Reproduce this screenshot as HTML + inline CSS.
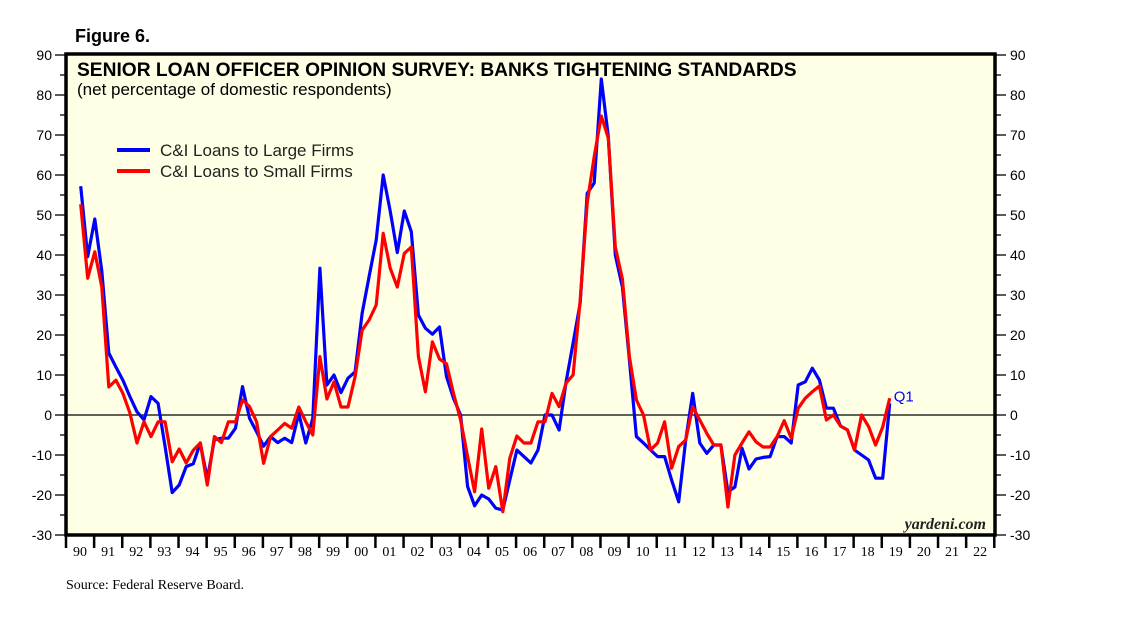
<!DOCTYPE html>
<html><head><meta charset="utf-8">
<style>
body{margin:0;background:#fff;}
svg{display:block;}
.sans{font-family:"Liberation Sans",Arial,sans-serif;}
.serif{font-family:"Liberation Serif","Times New Roman",serif;}
</style></head>
<body>
<svg id="chart" width="1138" height="621" viewBox="0 0 1138 621">
  <text x="75" y="42" class="sans" font-size="18" font-weight="bold">Figure 6.</text>
  <rect x="66" y="54" width="929" height="481" fill="#FFFFE6"/>
  <g id="axes"></g>
  <line id="zero-line" x1="66" x2="995" stroke="#000" stroke-width="1.2"/>
  <g id="series"></g>
  <rect x="66" y="54" width="929" height="481" fill="none" stroke="#000" stroke-width="3.5"/>
  <text x="77" y="76" class="sans" font-size="19.2" font-weight="bold">SENIOR LOAN OFFICER OPINION SURVEY: BANKS TIGHTENING STANDARDS</text>
  <text x="77" y="95" class="sans" font-size="17">(net percentage of domestic respondents)</text>
  <g>
    <line x1="117" x2="150" y1="150" y2="150" stroke="#0000ff" stroke-width="4"/>
    <text x="160" y="156" class="sans" font-size="17" fill="#222">C&amp;I Loans to Large Firms</text>
    <line x1="117" x2="150" y1="171" y2="171" stroke="#ff0000" stroke-width="4"/>
    <text x="160" y="177" class="sans" font-size="17" fill="#222">C&amp;I Loans to Small Firms</text>
  </g>
  <text id="q1" class="sans" font-size="15" fill="#0000ff">Q1</text>
  <text x="986" y="529" text-anchor="end" class="serif" font-size="16" font-style="italic" font-weight="bold" fill="#222">yardeni.com</text>
  <text x="66" y="589" class="serif" font-size="14">Source: Federal Reserve Board.</text>
</svg>
<script>
const yearLabels = ["90","91","92","93","94","95","96","97","98","99","00","01","02","03","04","05","06","07","08","09","10","11","12","13","14","15","16","17","18","19","20","21","22"];
const yTicks = [90,80,70,60,50,40,30,20,10,0,-10,-20,-30];
const largeFirms = [57.2,39.6,49,36,15.5,12,8.7,4.6,0.8,-1.2,4.6,2.9,-7.9,-19.4,-17.5,-12.9,-12.2,-7,-16,-6.2,-5.8,-5.8,-3.3,7.1,-0.8,-4.2,-7.8,-5.4,-6.9,-5.8,-6.9,0.4,-7,-0.8,36.7,7.5,10,5.6,9.2,10.8,25.4,34.6,43.75,60,51,40.6,51,45.8,25,21.7,20.2,22,9.6,4.2,0,-17.9,-22.7,-20,-21,-23.3,-23.75,-16.25,-8.75,-10.4,-12,-8.75,0,0,-3.75,8.3,18,28,55.4,58,84,69.6,40,32,13.75,-5.4,-7,-8.75,-10.4,-10.4,-16.25,-21.7,-6.25,5.4,-7,-9.6,-7.5,-7.5,-19.2,-18,-8.3,-13.5,-11,-10.6,-10.4,-5.4,-5.4,-7,7.5,8.3,11.7,8.75,1.7,1.7,-2.75,-3.75,-8.75,-10,-11.25,-15.8,-15.8,2.9];
const smallFirms = [52.7,34.2,40.8,32,7,8.7,5.4,0.5,-7,-1.7,-5.4,-1.7,-1.7,-11.7,-8.5,-12,-8.8,-7,-17.5,-5.4,-6.9,-1.7,-1.7,3.75,2.1,-1.7,-12.1,-5.4,-3.75,-2.1,-3.3,2,-1.7,-5,14.6,4,8.3,2,2,9.6,21.2,23.75,27.5,45.4,36.7,32,40.4,42,14.6,5.8,18.3,14,12.8,5.4,-1.2,-10.4,-19.2,-3.5,-18.3,-12.9,-24.2,-10.8,-5.25,-7,-7,-1.7,-1.7,5.4,2.1,8,10,28.75,53,64.6,74.75,69.2,42,34,14.6,3.75,0,-8.75,-7,-1.7,-13.3,-7.9,-6.25,2.1,-1.25,-4.6,-7.5,-7.5,-23,-10,-7,-4.2,-6.7,-8,-8,-5.4,-1.4,-5.8,1.7,4.2,5.8,7.25,-1.25,0,-2.75,-3.75,-8.75,0,-2.9,-7.5,-3,4.2];

const NS = "http://www.w3.org/2000/svg";
function yScale(v){ return 415 - v*4; }
function xYear(k){ return 66 + k*28.13; }
function xQuarter(i){ return 80.7 + i*(889.7-80.7)/(largeFirms.length-1); }
function mk(tag, attrs, parent){ const e=document.createElementNS(NS,tag); for(const k in attrs) e.setAttribute(k,attrs[k]); parent.appendChild(e); return e; }

const axes = document.getElementById('axes');
for (const v of yTicks){
  const y = yScale(v);
  let t = mk('line',{x1:55,x2:66,y1:y,y2:y,stroke:'#000','stroke-width':1.3},axes);
  
  
  t = mk('line',{x1:995,x2:1006,y1:y,y2:y,stroke:'#000','stroke-width':1.3},axes);
  
  
  if (v > -30){
    const ym = yScale(v-5);
    t = mk('line',{x1:60,x2:66,y1:ym,y2:ym,stroke:'#000','stroke-width':1.3},axes);
    
    
    t = mk('line',{x1:995,x2:1001,y1:ym,y2:ym,stroke:'#000','stroke-width':1.3},axes);
    
    
  }
  let l = mk('text',{x:52,y:y+5,'text-anchor':'end','font-size':14,class:'sans'},axes);
  l.textContent = v;
  
  
  l = mk('text',{x:1010,y:y+5,'font-size':14,class:'sans'},axes);
  l.textContent = v;
  
  
}
for (let k=0;k<=yearLabels.length;k++){
  const x = xYear(k);
  const t = mk('line',{x1:x,x2:x,y1:535,y2:548,stroke:'#000','stroke-width':2.5},axes);
  
  
  if (k<yearLabels.length){
    const l = mk('text',{x:x+14,y:556,'text-anchor':'middle','font-size':14,class:'serif'},axes);
    l.textContent = yearLabels[k];
    
    
  }
}
const zl = document.getElementById('zero-line');
zl.setAttribute('y1', yScale(0)); zl.setAttribute('y2', yScale(0));

const series = document.getElementById('series');
function drawLine(arr, color, name){
  const d = arr.map((v,i)=>(i?'L':'M')+xQuarter(i).toFixed(1)+','+yScale(v).toFixed(1)).join(' ');
  const p = mk('path',{d:d,fill:'none',stroke:color,'stroke-width':3.2,'stroke-linejoin':'round'},series);
  
  
}
drawLine(largeFirms,'#0000ff','large-firms-line');
drawLine(smallFirms,'#ff0000','small-firms-line');
const q1 = document.getElementById('q1');
q1.setAttribute('x', xQuarter(largeFirms.length-1)+4);
q1.setAttribute('y', yScale(largeFirms[largeFirms.length-1])-2);
</script>
</body></html>
